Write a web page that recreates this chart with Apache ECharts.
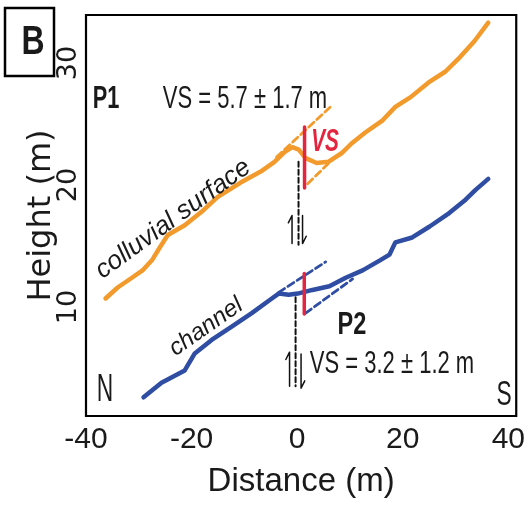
<!DOCTYPE html>
<html><head><meta charset="utf-8">
<script src="https://cdn.jsdelivr.net/npm/echarts@6/dist/echarts.min.js"></script>
<style>html,body{margin:0;padding:0;background:#fff}#c{width:528px;height:508px}</style>
</head><body><div id="c"></div><script>
// ---- data ----
const xTicks = [-40, -20, 0, 20, 40];
const yTicks = [10, 20, 30];
const colluvialDist   = [-36.3,-34.0,-31.3,-29.3,-27.4,-26.0,-24.5,-21.3,-18.1,-15.1,-10.7,-6.9,-4.3,-2.4,-0.9,0.3,1.6,3.7,5.9,8.4,10.3,12.9,16.2,18.6,21.5,24.9,28.1,30.9,33.6,36.2];
const colluvialHeight = [10.7,11.6,12.4,13.0,13.9,14.9,15.9,16.7,17.8,19.0,20.2,21.1,21.9,22.7,23.1,22.9,22.2,21.8,21.9,22.6,23.4,24.3,25.3,26.4,27.2,28.4,29.3,30.5,31.8,33.3];
const channelDist   = [-29.1,-25.7,-21.3,-19.4,-16.2,-12.4,-8.6,-4.8,-3.5,-1.6,0.1,2.9,6.1,9.2,12.4,15.6,17.5,18.6,21.8,25.1,28.8,31.9,33.8,36.2];
const channelHeight = [2.6,3.8,4.8,6.2,7.3,8.4,9.5,10.7,11.1,11.0,11.1,11.4,11.7,12.4,13.0,13.8,14.3,15.3,15.7,16.6,17.7,18.8,19.6,20.5];
// projected (dashed) surfaces
const surfUpperDist = [-3.9, 6.3],  surfUpperHeight = [22.3, 26.4];
const surfLowerDist = [2.0, 6.7],   surfLowerHeight = [20.1, 22.1];
const chanUpperDist = [-3.5, 5.4],  chanUpperHeight = [11.2, 13.7];
const chanLowerDist = [1.6, 10.5],  chanLowerHeight = [9.5, 12.3];
// vertical separation bars
const p1OffsetDist = [1.4, 1.4],   p1OffsetHeight = [24.75, 19.75];
const p2OffsetDist = [1.35, 1.35], p2OffsetHeight = [12.75, 9.43];
// fault traces
const p1FaultDist = [0.26, 0.26],  p1FaultHeight = [21.9, 15.1];
const p2FaultDist = [-0.3, -0.3],  p2FaultHeight = [10.8, 3.5];
// fault-motion harpoons: [distance, top height, bottom height]
const upHarpoons   = [[-0.97, 17.5, 15.2], [-1.44, 6.3, 3.5]];
const downHarpoons = [[1.02, 17.5, 15.2], [0.74, 6.15, 3.35]];

// ---- build ----
const zip = (a, b) => a.map((v, i) => [v, b[i]]);
const ORANGE = '#f39a2c', BLUE = '#2f4ea3', RED = '#e3263f', INK = '#1a1a1a';
const SANS = '"Liberation Sans",Arial,sans-serif';

function lineSeries(data, color, width, type, z) {
  return { type: 'line', data, showSymbol: false, silent: true, z: z || 2,
    lineStyle: { color, width, type: type || 'solid', cap: 'round', join: 'round' } };
}
const series = [
  lineSeries(zip(surfUpperDist, surfUpperHeight), ORANGE, 2.8, [7, 4], 1),
  lineSeries(zip(surfLowerDist, surfLowerHeight), ORANGE, 2.8, [7, 4], 1),
  lineSeries(zip(chanUpperDist, chanUpperHeight), BLUE, 2.8, [7, 4], 1),
  lineSeries(zip(chanLowerDist, chanLowerHeight), BLUE, 2.8, [7, 4], 1),
  lineSeries(zip(colluvialDist, colluvialHeight), ORANGE, 4.5, 'solid', 2),
  lineSeries(zip(channelDist, channelHeight), BLUE, 4.5, 'solid', 2),
  lineSeries(zip(p1FaultDist, p1FaultHeight), '#111', 2, [5, 3], 3),
  lineSeries(zip(p2FaultDist, p2FaultHeight), '#111', 2, [5, 3], 3),
  lineSeries(zip(p1OffsetDist, p1OffsetHeight), RED, 3.5, 'solid', 4),
  lineSeries(zip(p2OffsetDist, p2OffsetHeight), RED, 3.5, 'solid', 4),
];
upHarpoons.forEach(h => series.push(lineSeries([[h[0] - 0.7, h[1] - 0.6], [h[0], h[1]], [h[0], h[2]]], '#111', 1.5, 'solid', 3)));
downHarpoons.forEach(h => series.push(lineSeries([[h[0], h[1]], [h[0], h[2]], [h[0] + 0.7, h[2] + 0.6]], '#111', 1.5, 'solid', 3)));

function txt(text, x, y, font, opts) {
  opts = opts || {};
  return { type: 'text', x, y, rotation: opts.rot || 0, scaleX: opts.sx || 1, z: 10, silent: true,
    style: { text, x: 0, y: 0, font, fill: opts.fill || INK,
      align: 'center', verticalAlign: 'middle', textAlign: 'center', textVerticalAlign: 'middle' } };
}
const deg = Math.PI / 180;
const chart = echarts.init(document.getElementById('c'), null, { renderer: 'canvas' });
chart.setOption({
  animation: false,
  backgroundColor: '#fff',
  grid: { left: 86, right: 10, top: 15, bottom: 92, show: true, borderColor: '#000', borderWidth: 2.2, backgroundColor: 'transparent' },
  xAxis: {
    type: 'value', min: -40, max: 41.5,
    axisLine: { show: false }, axisTick: { show: false }, splitLine: { show: false },
    axisLabel: { customValues: xTicks, fontSize: 30, fontFamily: SANS, color: INK, margin: 9 },
    name: 'Distance (m)', nameLocation: 'middle', nameGap: 49, nameMoveOverlap: false,
    nameTextStyle: { fontSize: 33, fontFamily: SANS, color: INK }
  },
  yAxis: {
    type: 'value', min: 1.07, max: 33.93,
    axisLine: { show: false }, axisTick: { show: false }, splitLine: { show: false },
    axisLabel: { customValues: yTicks, rotate: 90, fontSize: 27, fontFamily: '"DejaVu Sans",sans-serif', color: INK, margin: 4 },
    name: 'Height (m)', nameLocation: 'middle', nameGap: 28, nameRotate: 90, nameMoveOverlap: false,
    nameTextStyle: { fontSize: 32, fontFamily: '"DejaVu Sans",sans-serif', color: INK }
  },
  series,
  graphic: [
    { type: 'rect', shape: { x: 5, y: 8, width: 49, height: 68 }, style: { fill: '#fff', stroke: '#000', lineWidth: 2.5 }, z: 9 },
    txt('B', 33, 43, 'bold 40px ' + SANS, { sx: 0.8 }),
    txt('P1', 106, 99, 'bold 32px ' + SANS, { sx: 0.68 }),
    txt('VS = 5.7 ± 1.7 m', 245, 99, '31px ' + SANS, { sx: 0.71 }),
    txt('VS', 325, 142, 'italic bold 32px ' + SANS, { sx: 0.65, fill: RED }),
    txt('colluvial surface', 173, 219, 'italic 26px ' + SANS, { rot: 36 * deg }),
    txt('channel', 206, 327, 'italic 24px ' + SANS, { rot: 35 * deg }),
    txt('P2', 352, 325, 'bold 31px ' + SANS, { sx: 0.76 }),
    txt('VS = 3.2 ± 1.2 m', 392, 364, '31px ' + SANS, { sx: 0.71 }),
    txt('N', 105, 391, '38px ' + SANS, { sx: 0.6 }),
    txt('S', 504, 395, '35px ' + SANS, { sx: 0.65 })
  ]
});
</script></body></html>
